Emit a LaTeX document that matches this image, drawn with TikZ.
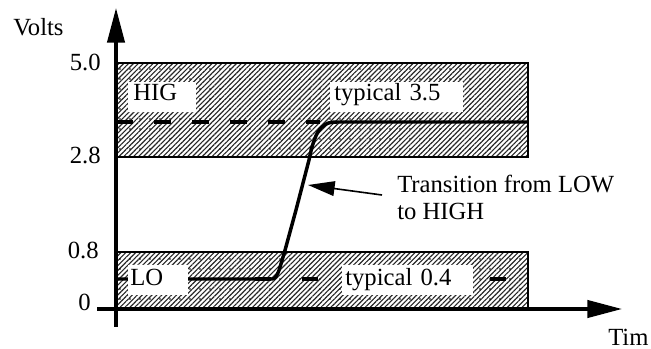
\documentclass[tikz,border=0pt]{standalone}
\usepackage{fontspec}
\setmainfont{Liberation Serif}
\usetikzlibrary{arrows.meta,patterns.meta}
\begin{document}
\begin{tikzpicture}[x=0.75pt,y=-0.75pt,
  txt/.style={font=\fontsize{18.5}{20}\selectfont, inner sep=0pt},
  hatch/.style={pattern={Lines[angle=45,distance=2.6pt,line width=0.85pt]}, pattern color=black!85},
  dotpat/.style={pattern={Dots[distance=7.5pt,radius=0.7pt]}, pattern color=black},
  bandedge/.style={draw=black, line width=0.8pt},
  axisline/.style={line width=2.4pt, -{Triangle[length=26pt,width=13pt]}},
  sig/.style={line width=2.6pt, line join=round, line cap=butt},
  wbox/.style={txt, fill=white, anchor=north west, align=left, minimum height=22.5pt, inner ysep=0pt},
  wboxH/.style={wbox, text height=11pt, text depth=6.5pt},
  wboxL/.style={wbox, text height=12.5pt, text depth=5pt},
  ptr/.style={line width=1.2pt, -{Triangle[length=20pt,width=11pt]}},
]
\useasboundingbox (0,0) rectangle (651,349);

% coordinates
\coordinate (hiTL) at (116,63);
\coordinate (hiBR) at (528,157);
\coordinate (loTL) at (116,252);
\coordinate (loBR) at (528,309);
\coordinate (yStart) at (116,327);
\coordinate (yEnd) at (116,8);
\coordinate (xStart) at (97,309);
\coordinate (xEnd) at (622,309);

% bands
\path[hatch] (hiTL) rectangle (hiBR);
\path[dotpat] (hiTL) rectangle (hiBR);
\draw[bandedge] (hiTL) rectangle (hiBR);
\path[hatch] (loTL) rectangle (loBR);
\path[dotpat] (loTL) rectangle (loBR);
\draw[bandedge] (loTL) rectangle (loBR);

% typical levels (dashed)
\coordinate (h0) at (116,122);
\coordinate (h1) at (320,122);
\draw[line width=2.4pt, dash pattern=on 12.75pt off 15.75pt] (h0) -- (h1);
\coordinate (l0) at (255,279);
\coordinate (l1) at (528,279);
\draw[line width=2.4pt, dash pattern=on 12pt off 23.25pt] (l0) -- (l1);

% signal
\coordinate (s0) at (116,279);
\coordinate (s1) at (528,122);
\draw[sig] (s0) -- (272,279) .. controls (278,279) and (280,266) .. (284,254)
  -- (296,210) -- (309,160) .. controls (312,145) and (316,132) .. (322,127)
  .. controls (326,123) and (330,122) .. (338,122) -- (s1);

% axes
\draw[axisline] (yStart) -- (yEnd);
\draw[axisline] (xStart) -- (xEnd);

% white label boxes
\node[wboxH, text width=43.5pt, inner xsep=3.75pt] (hig) at (128,82) {HIG};
\node[wboxH, text width=93.75pt, inner xsep=3pt] (t35) at (330,82) {typical 3.5};
\node[wboxL, text width=42pt, inner xsep=1.5pt] (lo) at (128,265) {LO};
\node[wboxL, text width=93.75pt, inner xsep=2.25pt] (t04) at (342,265) {typical 0.4};

% axis labels
\node[txt, anchor=west] (volts) at (13,27) {Volts};
\node[txt, anchor=east] (v50) at (101,62) {5.0};
\node[txt, anchor=east] (v28) at (101,155) {2.8};
\node[txt, anchor=east] (v08) at (99,250) {0.8};
\node[txt, anchor=east] (v0) at (91,302) {0};
\node[txt, anchor=west] (tim) at (608,337) {Tim};

% transition annotation
\node[txt, anchor=base west] (tr1) at (397,193) {Transition from LOW};
\node[txt, anchor=base west] (tr2) at (397,220) {to HIGH};
\coordinate (ptail) at (382,195);
\coordinate (ptip) at (308,185);
\draw[ptr] (ptail) -- (ptip);
\end{tikzpicture}
\end{document}
